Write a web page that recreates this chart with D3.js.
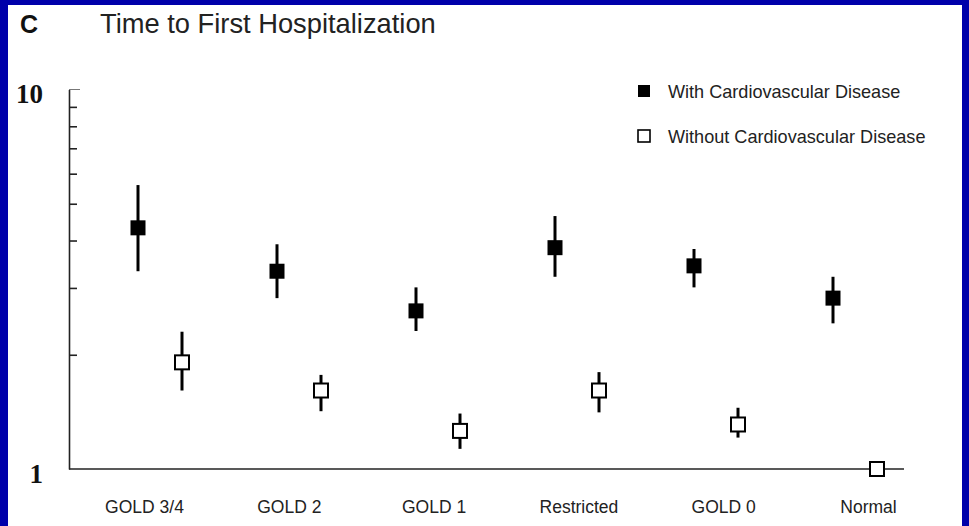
<!DOCTYPE html>
<html>
<head>
<meta charset="utf-8">
<script src="https://cdn.jsdelivr.net/npm/d3@7/dist/d3.min.js"></script>
<style>
  html, body { margin: 0; padding: 0; background: #0000aa; }
  svg { display: block; }
</style>
</head>
<body>
<script>
// Relative risk of first hospitalization by lung-function category
const categories = ["GOLD 3/4", "GOLD 2", "GOLD 1", "Restricted", "GOLD 0", "Normal"];

// With cardiovascular disease: point estimate and 95% CI
const withCVD      = [4.32, 3.32, 2.61, 3.83, 3.43, 2.82];
const withCVDLow   = [3.32, 2.82, 2.31, 3.21, 3.01, 2.42];
const withCVDHigh  = [5.60, 3.91, 3.01, 4.64, 3.80, 3.21];

// Without cardiovascular disease (Normal is the reference group)
const withoutCVD     = [1.91, 1.61, 1.26, 1.61, 1.31, 1.00];
const withoutCVDLow  = [1.61, 1.42, 1.13, 1.41, 1.21, null];
const withoutCVDHigh = [2.30, 1.77, 1.40, 1.80, 1.45, null];

const minorTicks = [2, 3, 4, 5, 6, 7, 8, 9];
const yLabels = [1, 10];
const legendLabels = ["With Cardiovascular Disease", "Without Cardiovascular Disease"];

const W = 969, H = 526;
const svg = d3.select("body").append("svg").attr("width", W).attr("height", H);

// white panel inside the blue frame
svg.append("rect").attr("x", 8).attr("y", 5).attr("width", W - 15).attr("height", H - 5).attr("fill", "#ffffff");

// title
svg.append("text").attr("x", 20).attr("y", 33)
  .attr("font-family", "'Liberation Sans', Arial, sans-serif").attr("font-weight", "bold")
  .attr("font-size", 25).attr("fill", "#111").text("C");
svg.append("text").attr("x", 100).attr("y", 33)
  .attr("font-family", "'Liberation Sans', Arial, sans-serif")
  .attr("font-size", 27.3).attr("fill", "#222").text("Time to First Hospitalization");

const y = d3.scaleLog().domain([1, 10]).range([469, 89.5]);
const x = d3.scalePoint().domain(categories).range([138, 833]);
const xLabel = d3.scalePoint().domain(categories).range([144, 868]);
const dodge = 44;
const axisX0 = 69, axisX1 = 904;

// y axis with inward minor ticks
const yAxis = d3.axisRight(y).tickValues(minorTicks).tickSize(8).tickSizeOuter(0).tickFormat("");
const gy = svg.append("g").attr("transform", `translate(${axisX0},0)`).call(yAxis);
gy.select(".domain").attr("stroke", "#222").attr("stroke-width", 1.6);
gy.selectAll(".tick line").attr("stroke", "#222").attr("stroke-width", 1.6);
svg.append("line").attr("x1", axisX0).attr("x2", axisX0 + 11)
  .attr("y1", y(10)).attr("y2", y(10)).attr("stroke", "#777").attr("stroke-width", 1);

svg.append("g").selectAll("text").data(yLabels).join("text")
  .attr("x", 43).attr("y", d => y(d) + 13.5).attr("text-anchor", "end")
  .attr("font-family", "'Liberation Serif', 'Times New Roman', serif").attr("font-weight", "bold")
  .attr("font-size", 27).attr("fill", "#111").text(d => d);

// x axis baseline
svg.append("line").attr("x1", axisX0).attr("x2", axisX1)
  .attr("y1", y(1)).attr("y2", y(1)).attr("stroke", "#222").attr("stroke-width", 1.6);

// category labels
const xAxis = d3.axisBottom(xLabel).tickSize(0).tickPadding(0);
const gx = svg.append("g").attr("transform", "translate(0,500)").call(xAxis);
gx.select(".domain").remove();
gx.selectAll("text").attr("font-family", "'Liberation Sans', Arial, sans-serif")
  .attr("font-size", 17.5).attr("fill", "#222").attr("dy", "0.72em");

// series drawing
const series = [
  { est: withCVD, lo: withCVDLow, hi: withCVDHigh, off: 0, fill: "#000", size: 15 },
  { est: withoutCVD, lo: withoutCVDLow, hi: withoutCVDHigh, off: dodge, fill: "#fff", size: 14 }
];

series.forEach(s => {
  const rows = categories.map((c, i) => ({ c, v: s.est[i], lo: s.lo[i], hi: s.hi[i] }));
  const g = svg.append("g");
  g.selectAll("line").data(rows.filter(d => d.lo != null)).join("line")
    .attr("x1", d => x(d.c) + s.off).attr("x2", d => x(d.c) + s.off)
    .attr("y1", d => y(d.hi)).attr("y2", d => y(d.lo))
    .attr("stroke", "#000").attr("stroke-width", 3);
  g.selectAll("rect").data(rows).join("rect")
    .attr("x", d => x(d.c) + s.off - s.size / 2).attr("y", d => y(d.v) - s.size / 2)
    .attr("width", s.size).attr("height", s.size)
    .attr("fill", s.fill).attr("stroke", "#000").attr("stroke-width", s.fill === "#fff" ? 2 : 0);
});

// legend
const legend = svg.append("g");
legendLabels.forEach((t, i) => {
  const ly = 91 + i * 45;
  legend.append("rect").attr("x", 638).attr("y", ly - 6).attr("width", 12).attr("height", 12)
    .attr("fill", i === 0 ? "#000" : "#fff").attr("stroke", "#000").attr("stroke-width", i === 0 ? 0 : 1.6);
  legend.append("text").attr("x", 668).attr("y", ly + 6.5)
    .attr("font-family", "'Liberation Sans', Arial, sans-serif")
    .attr("font-size", 18.1).attr("fill", "#222").text(t);
});
</script>
</body>
</html>
